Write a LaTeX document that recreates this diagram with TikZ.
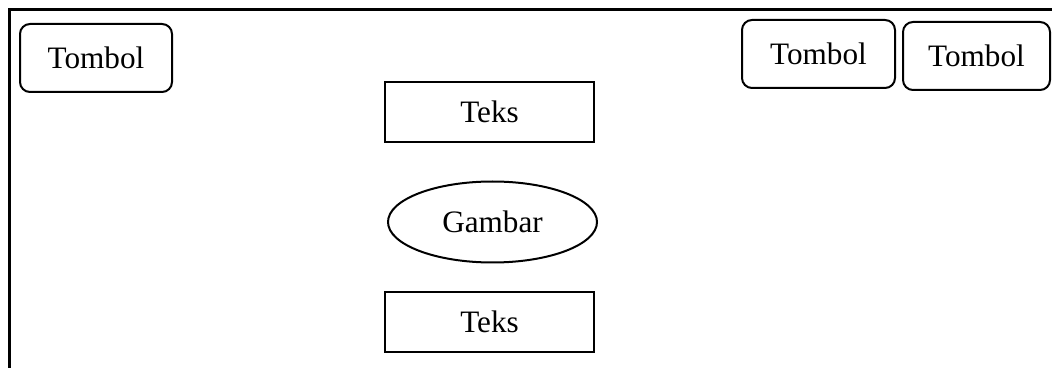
\documentclass[tikz,border=0pt]{standalone}
\usepackage{fontspec}
\setmainfont{Liberation Serif}
\usetikzlibrary{shapes.geometric, positioning}

\tikzset{
  tombol/.style={draw, line width=1pt, rounded corners=5pt, minimum height=34pt, inner sep=0pt},
  teks/.style={draw, line width=1pt, minimum width=104.5pt, minimum height=30pt, inner sep=0pt},
  gambar/.style={draw, ellipse, line width=1pt, minimum width=104.5pt, minimum height=40.5pt, inner sep=0pt}
}

\begin{document}
\begin{tikzpicture}[x=0.5pt, y=-0.5pt, on grid, font=\fontsize{15.6}{18}\selectfont]
    \useasboundingbox (0,0) rectangle (1052,368);
    % outer frame
    \draw[line width=1.5pt] (9.5,368) -- (9.5,9.5) -- (1052,9.5);

    \node[tombol, minimum width=76pt] (tombol1) at (96,58) {Tombol};
    \node[tombol, minimum width=76.5pt] (tombol2) at (818.5,54) {Tombol};
    \node[tombol, minimum width=73.5pt] (tombol3) at (976.5,56) {Tombol};

    \node[teks] (teks1) at (489.5,112) {Teks};
    \node[gambar, xshift=1.5pt] (gbr) [below=55pt of teks1] {Gambar};
    \node[teks, xshift=-1.5pt] (teks2) [below=50pt of gbr] {Teks};
  \end{tikzpicture}
\end{document}
